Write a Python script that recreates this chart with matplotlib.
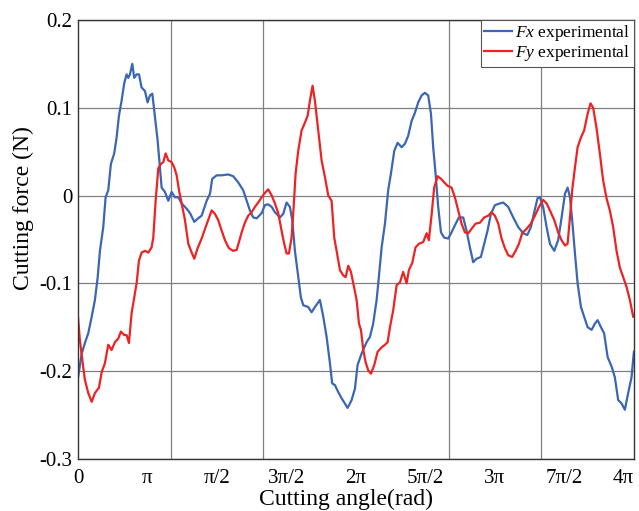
import numpy as np
import matplotlib
matplotlib.use("Agg")
import matplotlib.pyplot as plt

plt.rcParams['font.family'] = ['Liberation Serif', 'DejaVu Serif']
plt.rcParams['mathtext.fontset'] = 'custom'
plt.rcParams['mathtext.rm'] = 'Liberation Serif'
plt.rcParams['mathtext.it'] = 'Liberation Serif:italic'

# angle in units of pi, force in N
fx_angle = [0.0, 0.027, 0.050, 0.074, 0.099, 0.122, 0.142, 0.158, 0.182, 0.199,
            0.218, 0.237, 0.261, 0.278, 0.295, 0.314, 0.333, 0.350, 0.362, 0.374,
            0.391, 0.405, 0.422, 0.439, 0.458, 0.482, 0.501, 0.518, 0.535, 0.554,
            0.573, 0.590, 0.602, 0.626, 0.650, 0.674, 0.698, 0.722, 0.746, 0.782,
            0.806, 0.837, 0.865, 0.890, 0.926, 0.950, 0.966, 0.998, 1.034, 1.081,
            1.117, 1.153, 1.189, 1.214, 1.237, 1.261, 1.286, 1.322, 1.345, 1.369,
            1.394, 1.417, 1.453, 1.477, 1.501, 1.525, 1.542, 1.561, 1.585, 1.604,
            1.621, 1.657, 1.681, 1.705, 1.741, 1.765, 1.789, 1.813, 1.829, 1.849,
            1.873, 1.897, 1.921, 1.940, 1.969, 1.993, 2.012, 2.041, 2.077, 2.101,
            2.124, 2.149, 2.165, 2.185, 2.209, 2.232, 2.252, 2.276, 2.300, 2.329,
            2.353, 2.376, 2.401, 2.424, 2.448, 2.473, 2.496, 2.520, 2.540, 2.556,
            2.573, 2.592, 2.612, 2.635, 2.664, 2.688, 2.712, 2.741, 2.772, 2.796,
            2.820, 2.844, 2.868, 2.899, 2.923, 2.947, 2.971, 3.000, 3.036, 3.060,
            3.096, 3.132, 3.168, 3.204, 3.233, 3.259, 3.283, 3.307, 3.324, 3.347,
            3.372, 3.396, 3.427, 3.455, 3.480, 3.504, 3.523, 3.540, 3.556, 3.576,
            3.595, 3.619, 3.642, 3.667, 3.696, 3.719, 3.739, 3.763, 3.786, 3.811,
            3.840, 3.863, 3.887, 3.912, 3.935, 3.959, 3.983, 4.0]
fx_force = [-0.208, -0.180, -0.168, -0.157, -0.138, -0.119, -0.093, -0.063, -0.036, -0.002,
            0.006, 0.036, 0.048, 0.066, 0.091, 0.108, 0.128, 0.138, 0.134, 0.138,
            0.150, 0.134, 0.138, 0.138, 0.123, 0.119, 0.106, 0.114, 0.116, 0.089,
            0.063, 0.032, 0.009, 0.004, -0.006, 0.004, -0.002, -0.002, -0.009, -0.015,
            -0.020, -0.030, -0.026, -0.023, -0.006, 0.002, 0.019, 0.023, 0.023, 0.024,
            0.022, 0.015, 0.006, -0.006, -0.017, -0.025, -0.026, -0.020, -0.011, -0.010,
            -0.013, -0.019, -0.025, -0.021, -0.008, -0.013, -0.028, -0.063, -0.093, -0.116,
            -0.125, -0.127, -0.133, -0.127, -0.119, -0.138, -0.161, -0.191, -0.214, -0.216,
            -0.224, -0.231, -0.237, -0.242, -0.233, -0.220, -0.193, -0.180, -0.167, -0.161,
            -0.146, -0.119, -0.093, -0.059, -0.032, 0.006, 0.025, 0.051, 0.060, 0.055,
            0.059, 0.068, 0.085, 0.094, 0.106, 0.114, 0.117, 0.114, 0.093, 0.055,
            0.025, -0.013, -0.042, -0.048, -0.049, -0.042, -0.034, -0.025, -0.025, -0.040,
            -0.059, -0.076, -0.072, -0.070, -0.055, -0.040, -0.021, -0.011, -0.009, -0.008,
            -0.013, -0.025, -0.036, -0.043, -0.045, -0.036, -0.019, -0.003, -0.002, -0.013,
            -0.036, -0.055, -0.063, -0.051, -0.025, 0.002, 0.009, -0.002, -0.028, -0.066,
            -0.100, -0.127, -0.138, -0.150, -0.153, -0.146, -0.142, -0.150, -0.157, -0.184,
            -0.195, -0.207, -0.233, -0.237, -0.244, -0.225, -0.207, -0.178]

fy_angle = [0.0, 0.014, 0.031, 0.050, 0.074, 0.099, 0.122, 0.151, 0.171, 0.194,
            0.218, 0.242, 0.266, 0.290, 0.309, 0.333, 0.350, 0.367, 0.386, 0.405,
            0.422, 0.439, 0.458, 0.482, 0.506, 0.530, 0.542, 0.559, 0.578, 0.597,
            0.614, 0.631, 0.650, 0.674, 0.693, 0.710, 0.727, 0.746, 0.770, 0.794,
            0.818, 0.837, 0.861, 0.890, 0.914, 0.937, 0.962, 0.986, 1.009, 1.034,
            1.058, 1.086, 1.117, 1.142, 1.158, 1.178, 1.201, 1.225, 1.250, 1.273,
            1.297, 1.322, 1.345, 1.369, 1.394, 1.417, 1.441, 1.465, 1.484, 1.501,
            1.518, 1.537, 1.552, 1.566, 1.585, 1.609, 1.633, 1.653, 1.669, 1.688,
            1.705, 1.729, 1.753, 1.777, 1.801, 1.825, 1.844, 1.861, 1.885, 1.909,
            1.926, 1.945, 1.964, 1.981, 2.005, 2.022, 2.036, 2.053, 2.070, 2.088,
            2.108, 2.132, 2.156, 2.185, 2.209, 2.228, 2.245, 2.268, 2.293, 2.317,
            2.340, 2.365, 2.381, 2.405, 2.429, 2.453, 2.484, 2.509, 2.525, 2.545,
            2.563, 2.588, 2.612, 2.635, 2.660, 2.688, 2.712, 2.736, 2.760, 2.784,
            2.808, 2.832, 2.861, 2.892, 2.923, 2.952, 2.976, 3.000, 3.024, 3.048,
            3.072, 3.096, 3.124, 3.149, 3.173, 3.196, 3.228, 3.259, 3.288, 3.317,
            3.347, 3.372, 3.396, 3.427, 3.455, 3.480, 3.504, 3.523, 3.540, 3.556,
            3.576, 3.595, 3.619, 3.642, 3.667, 3.688, 3.707, 3.731, 3.755, 3.779,
            3.803, 3.827, 3.851, 3.875, 3.899, 3.923, 3.947, 3.971, 3.995]
fy_force = [-0.138, -0.165, -0.187, -0.210, -0.225, -0.235, -0.225, -0.219, -0.201, -0.191,
            -0.170, -0.176, -0.167, -0.163, -0.155, -0.159, -0.159, -0.168, -0.134, -0.116,
            -0.100, -0.074, -0.065, -0.063, -0.065, -0.059, -0.048, -0.006, 0.031, 0.036,
            0.038, 0.048, 0.040, 0.038, 0.032, 0.023, 0.006, -0.009, -0.028, -0.055,
            -0.065, -0.072, -0.060, -0.049, -0.038, -0.028, -0.017, -0.021, -0.028, -0.040,
            -0.051, -0.060, -0.063, -0.062, -0.053, -0.042, -0.031, -0.023, -0.019, -0.013,
            -0.008, -0.002, 0.003, 0.007, 0.000, -0.009, -0.020, -0.040, -0.055, -0.066,
            -0.066, -0.048, -0.013, 0.025, 0.051, 0.074, 0.083, 0.091, 0.108, 0.125,
            0.108, 0.074, 0.040, 0.021, 0.000, -0.006, -0.048, -0.063, -0.085, -0.091,
            -0.093, -0.080, -0.087, -0.100, -0.119, -0.146, -0.153, -0.176, -0.190, -0.199,
            -0.203, -0.193, -0.178, -0.173, -0.170, -0.167, -0.150, -0.131, -0.102, -0.099,
            -0.087, -0.100, -0.085, -0.077, -0.059, -0.055, -0.053, -0.043, -0.051, -0.021,
            0.009, 0.022, 0.019, 0.015, 0.011, 0.009, -0.002, -0.017, -0.032, -0.042,
            -0.043, -0.038, -0.032, -0.031, -0.025, -0.023, -0.019, -0.023, -0.032, -0.049,
            -0.060, -0.068, -0.070, -0.063, -0.055, -0.043, -0.038, -0.032, -0.023, -0.013,
            -0.005, -0.009, -0.017, -0.028, -0.042, -0.051, -0.057, -0.055, -0.025, 0.006,
            0.032, 0.055, 0.066, 0.074, 0.093, 0.105, 0.100, 0.077, 0.048, 0.017,
            -0.003, -0.017, -0.036, -0.063, -0.082, -0.093, -0.104, -0.119, -0.138]

xtick_labels = ['0', 'π', 'π/2', '3π/2', '2π', '5π/2', '3π', '7π/2', '4π']
ytick_values = [0.2, 0.1, 0, -0.1, -0.2, -0.3]
ytick_labels = ['0.2', '0.1', '0', '-0.1', '-0.2', '-0.3']

fig = plt.figure(figsize=(6.39, 5.11), dpi=100)
ax = fig.add_axes([0.122, 0.102, 0.870, 0.859])

ax.plot(np.array(fx_angle) * np.pi, fx_force, color='#3b66b3', lw=1.6,
        label=r'$\mathit{Fx}$ experimental')
ax.plot(np.array(fy_angle) * np.pi, fy_force, color='#ee2222', lw=1.6,
        label=r'$\mathit{Fy}$ experimental')

ax.set_xlim(0, 4 * np.pi)
ax.set_ylim(-0.3, 0.2)

ax.set_xticks(np.arange(9) * np.pi / 2)
ax.set_xticklabels(xtick_labels, fontsize=15)
ax.get_xticklabels()[-1].set_horizontalalignment('right')
ax.set_xticks(np.arange(1, 6) * 2 * np.pi / 3, minor=True)
ax.set_yticks(ytick_values)
ax.set_yticklabels(ytick_labels, fontsize=15)
ax.tick_params(which='both', length=0)
ax.tick_params(axis='x', pad=7)
ax.tick_params(axis='y', pad=4)

ax.grid(False)
ax.xaxis.grid(True, which='minor', color='#7f7f7f', lw=0.9)
ax.yaxis.grid(True, which='major', color='#7f7f7f', lw=0.9)

for s in ax.spines.values():
    s.set_color('#333333')
    s.set_linewidth(1.0)

ax.set_xlabel('Cutting angle(rad)', fontsize=17, labelpad=1)
ax.xaxis.set_label_coords(0.482, -0.068, transform=ax.transAxes)
ax.xaxis.label.set_verticalalignment('top')
ax.set_ylabel('Cutting force (N)', fontsize=17)
ax.yaxis.set_label_coords(-0.099, 0.572, transform=ax.transAxes)
ax.yaxis.label.set_verticalalignment('center')

leg = ax.legend(loc='upper right', borderaxespad=0, fontsize=12.5, fancybox=False,
                framealpha=1, edgecolor='#555555', handlelength=1.6,
                handletextpad=0.2, borderpad=0.2, labelspacing=0.0)
leg.get_frame().set_linewidth(0.8)

fig.savefig('out.png', dpi=100)
